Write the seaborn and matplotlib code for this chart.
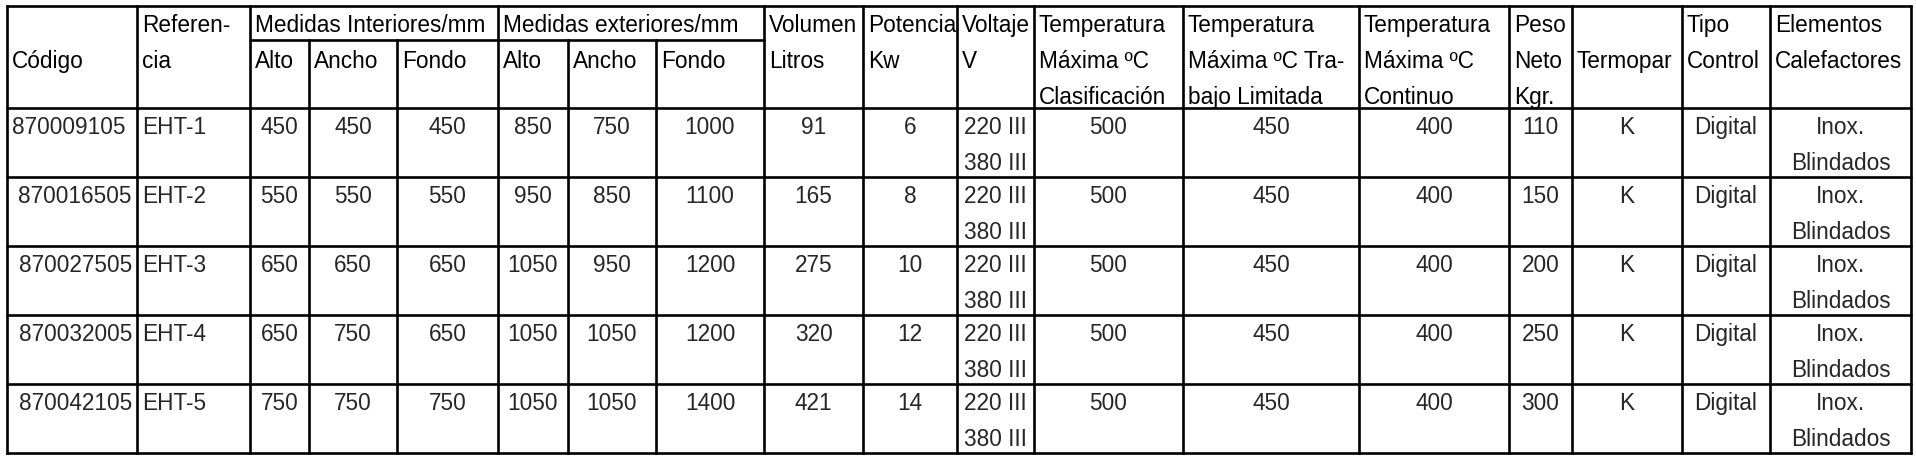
import matplotlib
matplotlib.use("Agg")
import matplotlib.pyplot as plt
import seaborn as sns

# datos de la tabla
codigos = ["870009105", "870016505", "870027505", "870032005", "870042105"]
referencias = ["EHT-1", "EHT-2", "EHT-3", "EHT-4", "EHT-5"]
int_alto = [450, 550, 650, 650, 750]
int_ancho = [450, 550, 650, 750, 750]
int_fondo = [450, 550, 650, 650, 750]
ext_alto = [850, 950, 1050, 1050, 1050]
ext_ancho = [750, 850, 950, 1050, 1050]
ext_fondo = [1000, 1100, 1200, 1200, 1400]
volumen = [91, 165, 275, 320, 421]
potencia = [6, 8, 10, 12, 14]
voltaje = ["220 III\n380 III"] * 5
temp_clasif = [500, 500, 500, 500, 500]
temp_trabajo = [450, 450, 450, 450, 450]
temp_continuo = [400, 400, 400, 400, 400]
peso = [110, 150, 200, 250, 300]
termopar = ["K"] * 5
control = ["Digital"] * 5
elementos = ["Inox.\nBlindados"] * 5

columnas = [codigos, referencias, int_alto, int_ancho, int_fondo,
            ext_alto, ext_ancho, ext_fondo, volumen, potencia, voltaje,
            temp_clasif, temp_trabajo, temp_continuo, peso, termopar,
            control, elementos]

# cabeceras: lista de (linea, texto) por columna
cabeceras = [
    [(1, "Código")],
    [(0, "Referen-"), (1, "cia")],
    [(1, "Alto")], [(1, "Ancho")], [(1, "Fondo")],
    [(1, "Alto")], [(1, "Ancho")], [(1, "Fondo")],
    [(0, "Volumen"), (1, "Litros")],
    [(0, "Potencia"), (1, "Kw")],
    [(0, "Voltaje"), (1, "V")],
    [(0, "Temperatura"), (1, "Máxima ºC"), (2, "Clasificación")],
    [(0, "Temperatura"), (1, "Máxima ºC Tra-"), (2, "bajo Limitada")],
    [(0, "Temperatura"), (1, "Máxima ºC"), (2, "Continuo")],
    [(0, "Peso"), (1, "Neto"), (2, "Kgr.")],
    [(1, "Termopar")],
    [(0, "Tipo"), (1, "Control")],
    [(0, "Elementos"), (1, "Calefactores")],
]
grupos = [(2, "Medidas Interiores/mm"), (5, "Medidas exteriores/mm")]

# geometría (pixeles)
x_lineas = [7, 137, 250, 309, 397, 498, 568, 656, 764, 863, 957, 1034,
            1183, 1359, 1509, 1572, 1682, 1770, 1911]
y_top, y_grupo, y_cab = 7, 41, 109
alto_fila = 69
n_filas = len(codigos)
y_bottom = y_cab + alto_fila * n_filas
interlinea = 36
base0 = 25
pad = 5
lw = 1.9

sns.set_theme(style="white")
plt.rcParams['font.family'] = ['Liberation Sans', 'DejaVu Sans']
fs = 16.3

fig = plt.figure(figsize=(19.16, 4.6), dpi=100)
ax = fig.add_axes([0, 0, 1, 1])
ax.set_xlim(0, 1916)
ax.set_ylim(460, 0)
ax.axis("off")

# líneas verticales
sub_cols = {3, 4, 6, 7}
for i, x in enumerate(x_lineas):
    y0 = y_grupo if i in sub_cols else y_top
    ax.plot([x, x], [y0, y_bottom], color="black", lw=lw, solid_capstyle="projecting")

# líneas horizontales
ax.plot([x_lineas[0], x_lineas[-1]], [y_top, y_top], color="black", lw=lw)
ax.plot([x_lineas[2], x_lineas[8]], [y_grupo, y_grupo], color="black", lw=lw)
for r in range(n_filas + 1):
    y = y_cab + r * alto_fila
    ax.plot([x_lineas[0], x_lineas[-1]], [y, y], color="black", lw=lw)

# cabeceras
for c, lineas in enumerate(cabeceras):
    for k, txt in lineas:
        ax.text(x_lineas[c] + pad, y_top + base0 + k * interlinea, txt,
                ha="left", va="baseline", fontsize=fs, color="black")
for c, txt in grupos:
    ax.text(x_lineas[c] + pad, y_top + base0, txt,
            ha="left", va="baseline", fontsize=fs, color="black")

# celdas de datos
for c, valores in enumerate(columnas):
    x_izq, x_der = x_lineas[c], x_lineas[c + 1]
    for r, v in enumerate(valores):
        y_fila = y_cab + r * alto_fila
        for k, linea in enumerate(str(v).split("\n")):
            yb = y_fila + base0 + k * interlinea
            if c == 0:
                if r == 0:
                    ax.text(x_izq + pad, yb, linea, ha="left", va="baseline", fontsize=fs)
                else:
                    ax.text(x_der - pad, yb, linea, ha="right", va="baseline", fontsize=fs)
            elif c == 1:
                ax.text(x_izq + pad, yb, linea, ha="left", va="baseline", fontsize=fs)
            else:
                ax.text((x_izq + x_der) / 2, yb, linea, ha="center", va="baseline", fontsize=fs)

fig.savefig("out.png", dpi=100, facecolor="white")
